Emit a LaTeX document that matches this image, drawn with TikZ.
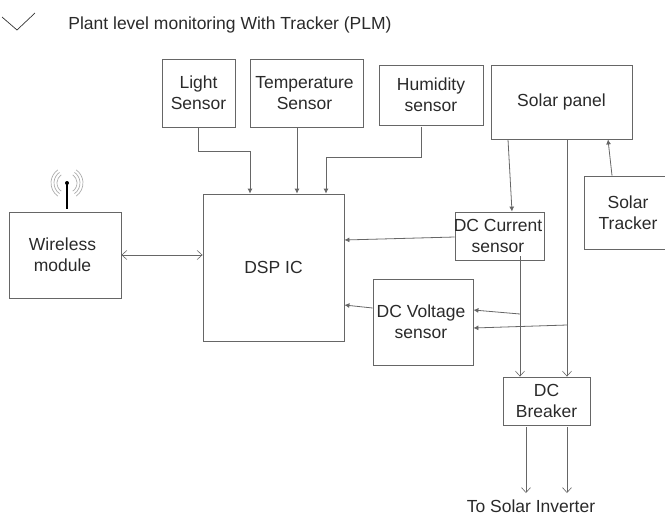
\documentclass[tikz,border=0pt]{standalone}
\usepackage{fontspec}
\setmainfont{Liberation Sans}
\usepgflibrary{arrows.meta}
\definecolor{linegray}{HTML}{666666}
\definecolor{textgray}{HTML}{2A2A2A}

\begin{document}
\begin{tikzpicture}[x=1pt,y=-1pt,line width=0.8pt,
  block/.style 2 args={draw=linegray,minimum width=#1,minimum height=#2,inner sep=0pt,
    align=center,text=textgray,font=\fontsize{17.5}{21}\selectfont},
  label text/.style={text=textgray,inner sep=0pt,font=\fontsize{#1}{21}\selectfont},
  solid tip/.style={draw=linegray,-{Latex[length=5pt,width=5pt]}},
  open tip/.style={draw=linegray,-{Straight Barb[length=5pt,width=9pt,line width=0.6pt]}},
  wave/.style={draw=gray!65,line width=0.7pt}]

\useasboundingbox (0,0) rectangle (665,515);

\draw[black!80,line width=0.7pt] (2,17)--(17,30)--(35,13);
\node[label text=17.5,anchor=west] (title) at (68,25) {Plant level monitoring With Tracker (PLM)};

% sensors
\node[block={73pt}{68pt}] (light) at (198.5,93) {Light\\Sensor};
\node[block={113pt}{68pt}] (temp) at (306.5,93) {Temperature\hspace*{4pt}\\Sensor\hspace*{4pt}};
\node[block={104pt}{60pt}] (humidity) at (431,95) {Humidity\\sensor};
\node[block={141pt}{74pt}] (panel) at (561.5,102) {\raisebox{-2.5pt}{Solar panel}};
\node[block={88pt}{73pt}] (tracker) at (628,212.5) {Solar\\Tracker};

\node[block={141pt}{147pt}] (dsp) at (273.5,267.5) {DSP IC};
\node[block={112pt}{86pt}] (wireless) at (65,255) {Wireless\hspace*{5pt}\\module\hspace*{5pt}};
\node[block={89pt}{48pt}] (current) at (499.5,236) {\makebox[80pt]{DC Current\hspace*{3pt}}\\sensor\hspace*{3pt}};
\node[block={100pt}{86pt}] (voltage) at (423,322) {DC Voltage\hspace*{4pt}\\sensor\hspace*{4pt}};
\node[block={87pt}{48pt}] (breaker) at (546.5,401) {DC\\Breaker};
\node[label text=17.5] (inverter) at (531,506) {To Solar Inverter};

% antenna
\coordinate (tip) at (67,183);
\draw[black,line width=1.2pt] (wireless.north -| tip) ++(0,-3) -- (tip);
\fill[black] (tip) circle (2pt);
\foreach \r in {10,13,16}{
 \draw[wave] (tip) ++(55:\r) arc (55:-55:\r);
 \draw[wave] (tip) ++(125:\r) arc (125:235:\r);
}

\draw[solid tip] (light.south) |- (250,151) -- (dsp.north -| 250,0);
\draw[solid tip] (temp.south -| 297,0) -- (dsp.north -| 297,0);
\draw[solid tip] (humidity.south -| 421,0) ++(0,2) |- (326,157) -- (dsp.north -| 326,0);

\draw[draw=linegray,{Straight Barb[length=5pt,width=9pt,line width=0.6pt]}-{Straight Barb[length=5pt,width=9pt,line width=0.6pt]}] (wireless.east) -- (dsp.west |- wireless.east);

\draw[solid tip] (panel.south -| 508,0) -- (current.north -| 512,0);
\draw[solid tip] (tracker.north -| 612,0) -- (panel.south -| 608,0);
\draw[solid tip] (current.west |- 0,237) -- (dsp.east |- 0,240);
\draw[solid tip] (voltage.west |- 0,308) -- (dsp.east |- 0,305);

\coordinate (currentjoin) at (520,314);
\coordinate (panelturn) at (567,325);
\draw[open tip] (current.south -| 520,0) ++(0,-4) -- (breaker.north -| 520,0);
\draw[open tip] (panel.south -| 567,0) -- (breaker.north -| 567,0);
\draw[solid tip] (currentjoin) -- (voltage.east |- 0,310);
\draw[solid tip] (panelturn) -- (voltage.east |- 0,328);

\draw[open tip] (breaker.south -| 526,0) ++(0,2) -- (526,493);
\draw[open tip] (breaker.south -| 567,0) ++(0,2) -- (567,493);
\end{tikzpicture}
\end{document}
